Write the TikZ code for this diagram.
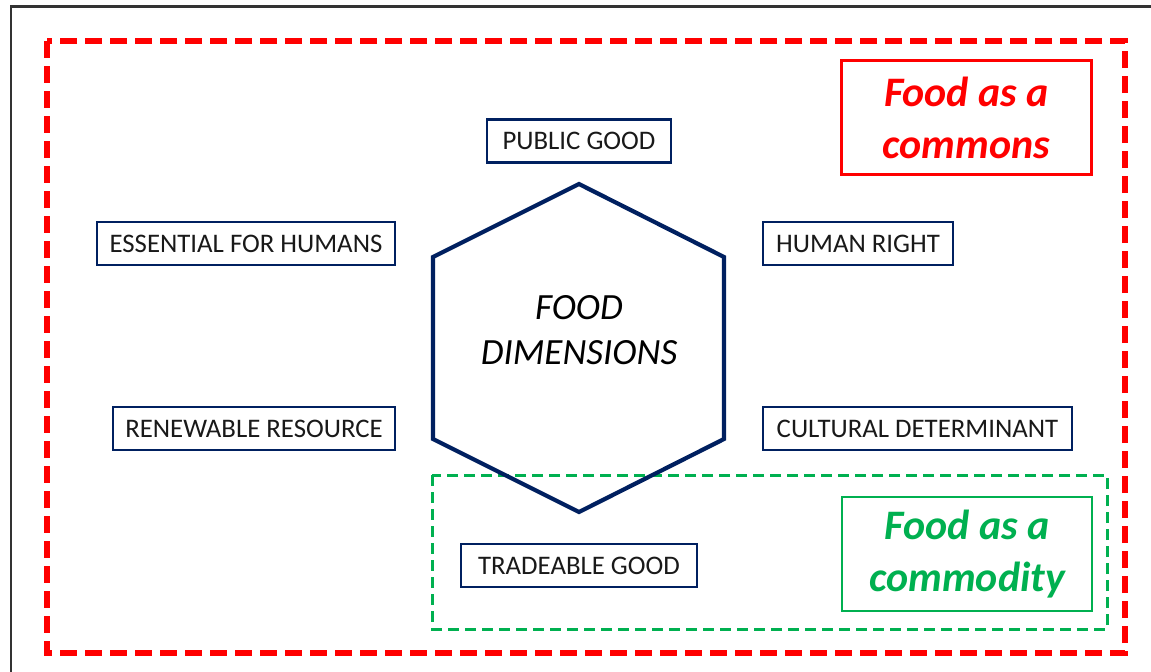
\documentclass[tikz,border=0pt]{standalone}
\usepackage{fontspec}
\setmainfont{Carlito}
\definecolor{navy}{RGB}{0,32,96}
\definecolor{leafgreen}{RGB}{0,176,80}
\begin{document}
\begin{tikzpicture}[x=0.5pt, y=-0.5pt,
  dimbox/.style={draw=navy, line width=1.2pt, text=black!90, inner xsep=5pt,
    minimum width=#1, minimum height=21.5pt, font=\fontsize{13.4}{16}\selectfont},
  tagbox/.style={line width=1.2pt, align=center, minimum width=125pt, minimum height=57pt,
    font=\fontsize{21}{26}\selectfont\bfseries\itshape}]
  \useasboundingbox (0,0) rectangle (1151,671);
  \fill[white] (0,0) rectangle (1151,671);
  \draw[black!80, line width=1.3pt] (11,6.5) rectangle (1180,700); % frame

  \draw[red, line width=3pt, dash pattern=on 8.5pt off 4pt] (47,41) rectangle (1125,653); % commons
  \draw[leafgreen, line width=1.5pt, dash pattern=on 5.5pt off 3pt] (432,475) rectangle (1107,629); % commodity

  % hexagon
  \coordinate (hexT) at (579,184);
  \coordinate (hexTR) at (724,257);
  \coordinate (hexBR) at (724,439);
  \coordinate (hexB) at (579,512);
  \coordinate (hexBL) at (433,439);
  \coordinate (hexTL) at (433,257);
  \draw[navy, line width=2.1pt, line join=miter] (hexT) -- (hexTR) -- (hexBR) -- (hexB) -- (hexBL) -- (hexTL) -- cycle;
  \node[align=center, font=\fontsize{18.5}{22.5}\selectfont\itshape] (dims) at (579,330) {FOOD\\DIMENSIONS};

  \node[dimbox=92pt] (public) at (579,141) {PUBLIC GOOD};
  \node[dimbox=149pt] (essential) at (246,243.5) {ESSENTIAL FOR HUMANS};
  \node[dimbox=95pt] (right) at (858,243.5) {HUMAN RIGHT};
  \node[dimbox=141pt] (renewable) at (254,428.5) {RENEWABLE RESOURCE};
  \node[dimbox=154.5pt] (cultural) at (917.5,428.5) {CULTURAL DETERMINANT};
  \node[dimbox=118pt] (tradeable) at (579,565.5) {TRADEABLE GOOD};

  \node[tagbox, draw=red, text=red] (commons) at (966.5,117.5) {Food as a\\commons};
  \node[tagbox, draw=leafgreen, text=leafgreen] (commodity) at (967,554) {Food as a\\commodity};
\end{tikzpicture}
\end{document}
